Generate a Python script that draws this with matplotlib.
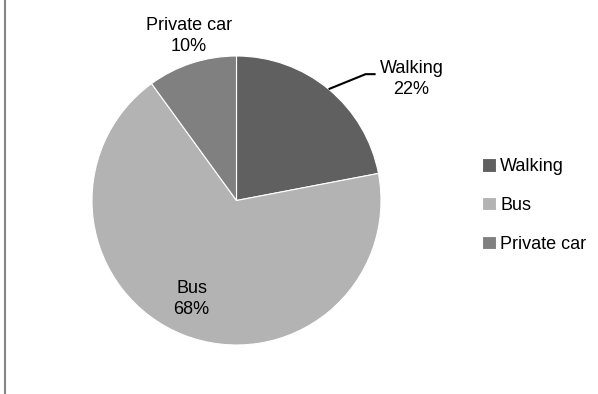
import numpy as np
import matplotlib
matplotlib.use('Agg')
import matplotlib.pyplot as plt
from matplotlib.lines import Line2D

# Modal split of trips
modes = ['Walking', 'Bus', 'Private car']
shares = [22, 68, 10]
colors = ['#606060', '#b3b3b3', '#808080']

plt.rcParams['font.family'] = ['Liberation Sans', 'DejaVu Sans']
plt.rcParams['font.size'] = 13

W, H = 598, 394
fig = plt.figure(figsize=(W / 100, H / 100), dpi=100)
ax = fig.add_axes([0, 0, 1, 1])

cx, cy, r = 236.5, H - 200.5, 144.5

wedges, _ = ax.pie(shares, colors=colors, startangle=90, counterclock=False,
                   center=(cx, cy), radius=r, frame=True,
                   wedgeprops=dict(edgecolor='white', linewidth=0.8))
ax.set_xlim(0, W)
ax.set_ylim(0, H)
ax.set_aspect('equal')
ax.axis('off')

def mid_angle(w):
    return np.deg2rad((w.theta1 + w.theta2) / 2)

def label(i):
    return '%s\n%d%%' % (modes[i], shares[i])

# Walking: label outside with a leader line
a = mid_angle(wedges[0])
x0, y0 = cx + r * np.cos(a), cy + r * np.sin(a)
ax.plot([x0, x0 + 37, x0 + 47], [y0, y0 + 15, y0 + 15], color='black', lw=1.5,
        solid_capstyle='butt')
ax.text(x0 + 83, y0 + 10, label(0), ha='center', va='center', linespacing=1.3)

# Bus: label inside the slice
a = mid_angle(wedges[1])
ax.text(cx + 0.73 * r * np.cos(a) - 6, cy + 0.73 * r * np.sin(a), label(1),
        ha='center', va='center', linespacing=1.3)

# Private car: label above the slice
a = mid_angle(wedges[2])
ax.text(cx + 1.2 * r * np.cos(a) + 6, cy + 1.2 * r * np.sin(a), label(2),
        ha='center', va='center', linespacing=1.3)

ax.legend(wedges, modes, loc='upper left', bbox_to_anchor=(475 / W, 1 - 151 / H),
          frameon=False, handlelength=0.75, handleheight=0.75, handletextpad=0.25,
          labelspacing=1.2, borderaxespad=0)

fig.add_artist(Line2D([4.5 / W, 4.5 / W], [0, 1], color='#868686', lw=1.5))

fig.savefig('out.png', dpi=100)
